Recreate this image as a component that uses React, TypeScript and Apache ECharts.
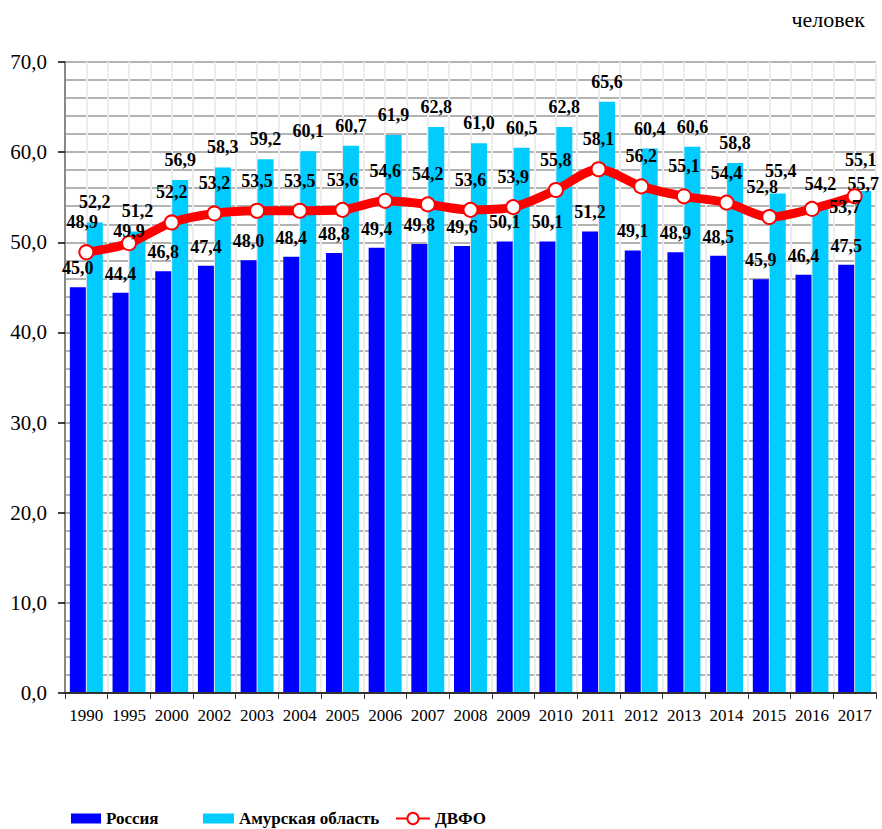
import React, { useEffect, useRef } from "react";
import * as echarts from "echarts";

const years = ["1990", "1995", "2000", "2002", "2003", "2004", "2005", "2006", "2007", "2008", "2009", "2010", "2011", "2012", "2013", "2014", "2015", "2016", "2017"];
const russia = [45.0, 44.4, 46.8, 47.4, 48.0, 48.4, 48.8, 49.4, 49.8, 49.6, 50.1, 50.1, 51.2, 49.1, 48.9, 48.5, 45.9, 46.4, 47.5];
const amur = [52.2, 51.2, 56.9, 58.3, 59.2, 60.1, 60.7, 61.9, 62.8, 61.0, 60.5, 62.8, 65.6, 60.4, 60.6, 58.8, 55.4, 54.2, 55.7];
const dvfo = [48.9, 49.9, 52.2, 53.2, 53.5, 53.5, 53.6, 54.6, 54.2, 53.6, 53.9, 55.8, 58.1, 56.2, 55.1, 54.4, 52.8, 53.7, 55.1];
const yTicks = { min: 0, max: 70, interval: 10 };
const unitLabel = "человек";
const names = ["Россия", "Амурская область", "ДВФО"];

// label placement tweaks (style only)
const lineLabelOffsets: Record<number, number[]> = { 0: [-4, 0], 1: [0, 18], 16: [-7, 0], 17: [33, 28], 18: [6, -6] };
const amurLabelOffsets: Record<number, number[]> = { 16: [3, -3], 18: [0, 13] };

const SERIF = "Liberation Serif, Times New Roman, serif";
const fmt = (v: number) => v.toFixed(1).replace(".", ",");

export default function App() {
  const ref = useRef<HTMLDivElement>(null);
  useEffect(() => {
    if (!ref.current) return;
    const chart = echarts.init(ref.current, null, { renderer: "svg" });
    const labelStyle = {
      show: true,
      position: "top" as const,
      fontFamily: SERIF,
      fontWeight: "bold" as const,
      fontSize: 18,
      color: "#000",
      formatter: (p: any) => fmt(p.value),
    };
    const legendText = { fontFamily: SERIF, fontWeight: "bold", fontSize: 17, color: "#000" };
    const halfCats = years.flatMap((y) => [y + "a", y + "b"]);
    chart.setOption({
      animation: false,
      title: {
        text: unitLabel,
        right: 12,
        top: 3,
        textStyle: { fontFamily: SERIF, fontSize: 22, fontWeight: "normal", color: "#000" },
      },
      legend: [
        { data: [names[0]], left: 66, top: 805, itemWidth: 30, itemHeight: 10, icon: "rect", textStyle: legendText },
        { data: [names[1]], left: 198, top: 805, itemWidth: 31, itemHeight: 10, icon: "rect", textStyle: legendText },
        { data: [names[2]], left: 390, top: 805, itemWidth: 34, itemHeight: 14, textStyle: legendText },
      ],
      grid: { left: 65, right: 6, top: 62, bottom: 136, containLabel: false },
      xAxis: [
        {
          type: "category",
          data: years,
          boundaryGap: true,
          axisLine: { lineStyle: { color: "#333", width: 2 } },
          axisTick: { show: true, length: 6, interval: 0, lineStyle: { color: "#333", width: 1 } },
          axisLabel: { interval: 0, margin: 14, fontFamily: SERIF, fontSize: 17, color: "#000" },
          splitLine: { show: false },
          z: 3,
        },
        {
          type: "category",
          data: halfCats,
          boundaryGap: true,
          position: "bottom",
          axisLine: { show: false },
          axisTick: { show: false },
          axisLabel: { show: false },
          splitLine: { show: true, interval: 0, lineStyle: { color: "#ececec", width: 2 } },
        },
      ],
      yAxis: {
        type: "value",
        min: yTicks.min,
        max: yTicks.max,
        interval: yTicks.interval,
        axisLine: { show: true, lineStyle: { color: "#888", width: 2 } },
        axisTick: { show: true, length: 7, lineStyle: { color: "#000", width: 1.5 } },
        axisLabel: { margin: 18, fontFamily: SERIF, fontSize: 21, color: "#000", formatter: (v: number) => fmt(v) },
        splitLine: { show: true, lineStyle: { color: "#b3b3b3", width: 2 } },
        minorTick: { show: false, splitNumber: 5 },
        minorSplitLine: { show: true, lineStyle: { color: "#b3b3b3", width: 2 } },
      },
      series: [
        {
          name: names[0],
          type: "bar",
          data: russia,
          barWidth: 16,
          barGap: "6%",
          itemStyle: { color: "#0000ff" },
          label: { ...labelStyle, distance: 10 },
          z: 2,
        },
        {
          name: names[1],
          type: "bar",
          data: amur.map((v, i) =>
            amurLabelOffsets[i] ? { value: v, label: { offset: amurLabelOffsets[i] } } : v
          ),
          barWidth: 16,
          itemStyle: { color: "#00ccff" },
          label: { ...labelStyle, distance: 11 },
          z: 2,
        },
        {
          name: names[2],
          type: "line",
          data: dvfo.map((v, i) =>
            lineLabelOffsets[i] ? { value: v, label: { offset: lineLabelOffsets[i] } } : v
          ),
          smooth: 0.3,
          symbol: "circle",
          symbolSize: 14,
          lineStyle: { color: "#ff0000", width: 9 },
          itemStyle: { color: "#ffffff", borderColor: "#ff0000", borderWidth: 2 },
          label: { ...labelStyle, distance: 13 },
          z: 5,
        },
      ],
    });
    return () => chart.dispose();
  }, []);
  return <div ref={ref} style={{ position: "absolute", left: 0, top: 0, width: 882, height: 829 }} />;
}
